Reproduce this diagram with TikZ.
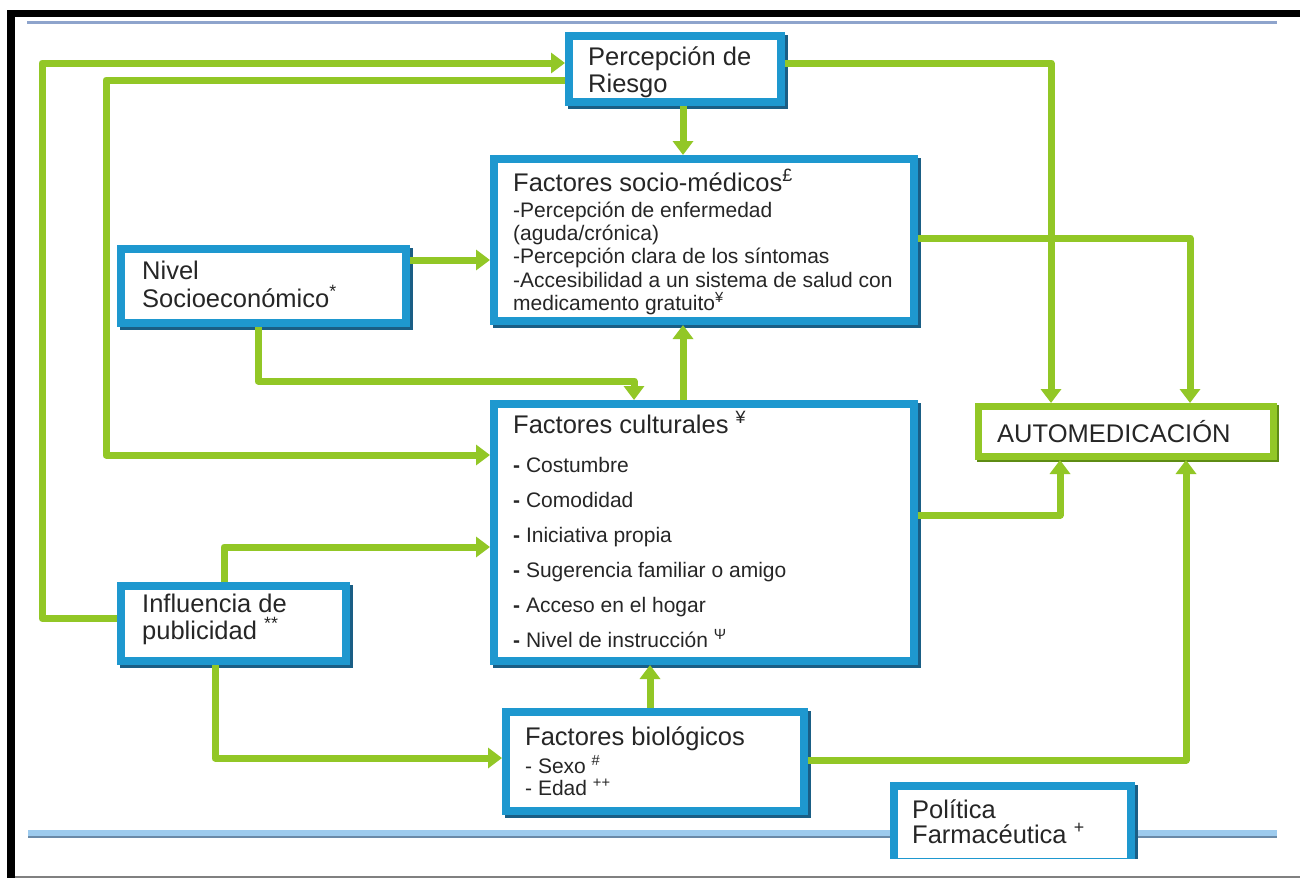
\documentclass[tikz,border=0pt]{standalone}
\usepackage{fontspec}
\setmainfont{Liberation Sans}
\usetikzlibrary{arrows.meta,calc}
\definecolor{bblue}{HTML}{1E98CF}
\definecolor{bshadow}{HTML}{1A5E85}
\definecolor{gline}{HTML}{92C726}
\definecolor{gshadow}{HTML}{5E8C14}
\definecolor{txt}{HTML}{262626}
\definecolor{topline}{HTML}{8EA4CC}
\definecolor{botlight}{HTML}{9DCBEE}
\definecolor{botdark}{HTML}{6A8AA8}
\begin{document}
\begin{tikzpicture}[x=1pt,y=-1pt,
  bluebox/.style={draw=bblue, line width=8pt, fill=white, rectangle, inner sep=0pt,
    preaction={draw=bshadow, line width=8pt, transform canvas={xshift=3pt,yshift=-3pt}}},
  greenbox/.style={draw=gline, line width=7pt, fill=white, rectangle, inner sep=0pt,
    preaction={draw=gshadow, line width=7pt, transform canvas={xshift=2pt,yshift=-2pt}}},
  lbl/.style={anchor=base west, inner sep=0pt, text=txt, font=\fontsize{25.5}{28}\selectfont},
  sml/.style={lbl, font=\fontsize{21}{24}\selectfont},
  garrow/.style={draw=gline, line width=7pt, line join=round, -{Triangle[width=20pt,length=14pt]}}
]
\useasboundingbox (0,0) rectangle (1300,878);
\fill[white] (0,0) rectangle (1300,878);
% frame
\fill[black] (7,10) rectangle (1300,17);
\fill[black] (7,10) rectangle (15,878);
\draw[topline, line width=3pt] (27,22) -- (1277,22);
\draw[botlight, line width=6pt] (28,833) -- (1277,833);
\draw[botdark, line width=2pt] (28,837) -- (1277,837);
\draw[gray, line width=1.5pt] (15,877) -- (1300,877);

% boxes
\node[bluebox, minimum width=212pt, minimum height=66pt] (pr) at (675,69) {};
\node[bluebox, minimum width=420pt, minimum height=162pt] (sm) at (704,240) {};
\node[bluebox, minimum width=285pt, minimum height=74pt] (ns) at (263.5,286) {};
\node[bluebox, minimum width=420pt, minimum height=257pt] (cu) at (704,532.5) {};
\node[greenbox, minimum width=295pt, minimum height=50pt] (au) at (1126,431.5) {};
\node[bluebox, minimum width=225pt, minimum height=75pt] (pu) at (233.5,623.5) {};
\node[bluebox, minimum width=298pt, minimum height=99pt] (bi) at (655,761.5) {};
\begin{scope}
\clip (0,0) rectangle (1300,858);
\node[bluebox, minimum width=237pt, minimum height=76pt] (po) at (1012.5,824) {};
\end{scope}

% texts
\node[lbl] (pr1) at (588,65) {Percepción de};
\node[lbl] (pr2) at (588,92) {Riesgo};

\node[lbl] (sm0) at (513,191) {Factores socio-médicos\textsuperscript{£}};
\node[sml] (sm1) at (513,217) {-Percepción de enfermedad};
\node[sml] (sm2) at (513,240) {(aguda/crónica)};
\node[sml] (sm3) at (513,263) {-Percepción clara de los síntomas};
\node[sml] (sm4) at (513,287) {-Accesibilidad a un sistema de salud con};
\node[sml] (sm5) at (513,310) {medicamento gratuito\textsuperscript{¥}};

\node[lbl] (ns1) at (142,279) {Nivel};
\node[lbl] (ns2) at (142,307) {Socioeconómico\textsuperscript{*}};

\node[lbl] (cu0) at (513,433) {Factores culturales \textsuperscript{¥}};
\node[sml] (cu1) at (513,472) {\textbf{-} Costumbre};
\node[sml] (cu2) at (513,507) {\textbf{-} Comodidad};
\node[sml] (cu3) at (513,542) {\textbf{-} Iniciativa propia};
\node[sml] (cu4) at (513,577) {\textbf{-} Sugerencia familiar o amigo};
\node[sml] (cu5) at (513,612) {\textbf{-} Acceso en el hogar};
\node[sml] (cu6) at (513,647) {\textbf{-} Nivel de instrucción \textsuperscript{Ψ}};

\node[lbl] (au1) at (997,442) {AUTOMEDICACIÓN};

\node[lbl] (pu1) at (142,612) {Influencia de};
\node[lbl] (pu2) at (142,639) {publicidad \textsuperscript{**}};

\node[lbl] (bi0) at (525,745) {Factores biológicos};
\node[sml] (bi1) at (525,773) {- Sexo \textsuperscript{\#}};
\node[sml] (bi2) at (525,795) {- Edad \textsuperscript{++}};

\node[lbl] (po1) at (912,818) {Política};
\node[lbl] (po2) at (912,843) {Farmacéutica \textsuperscript{+}};

% connectors
\coordinate (c1) at (42,63);
\draw[garrow] ([yshift=5pt]pu.west) -| (c1) -- (c1 -| pr.west);
\coordinate (c2) at (106,80);
\coordinate (c3) at (106,455);
\draw[garrow] (pr.west |- c2) -- (c2) -- (c3) -- (c3 -| cu.west);
\coordinate (c4) at (683,0);
\draw[garrow] (pr.south -| c4) -- (sm.north -| c4);
\coordinate (c5) at (1051,63);
\draw[garrow] (pr.east |- c5) -- (c5) -- (c5 |- au.north);
\coordinate (c6) at (1190,238);
\draw[garrow] (sm.east |- c6) -- (c6) -- (c6 |- au.north);
\coordinate (c7) at (0,260);
\draw[garrow] (ns.east |- c7) -- (sm.west |- c7);
\coordinate (c8) at (258,381);
\coordinate (c9) at (634,381);
\draw[garrow] (ns.south -| c8) -- (c8) -- (c9) -- (c9 |- cu.north);
\draw[garrow] (cu.north -| c4) -- (sm.south -| c4);
\coordinate (c11) at (1060,515);
\draw[garrow] (cu.east |- c11) -- (c11) -- (c11 |- au.south);
\coordinate (c12) at (224,547);
\draw[garrow] (pu.north -| c12) -- (c12) -- (c12 -| cu.west);
\coordinate (c13) at (215,758);
\draw[garrow] (pu.south -| c13) -- (c13) -- (c13 -| bi.west);
\coordinate (c14) at (650,0);
\draw[garrow] (bi.north -| c14) -- (cu.south -| c14);
\coordinate (c15) at (1186,760);
\draw[garrow] (bi.east |- c15) -- (c15) -- (c15 |- au.south);
\end{tikzpicture}
\end{document}
